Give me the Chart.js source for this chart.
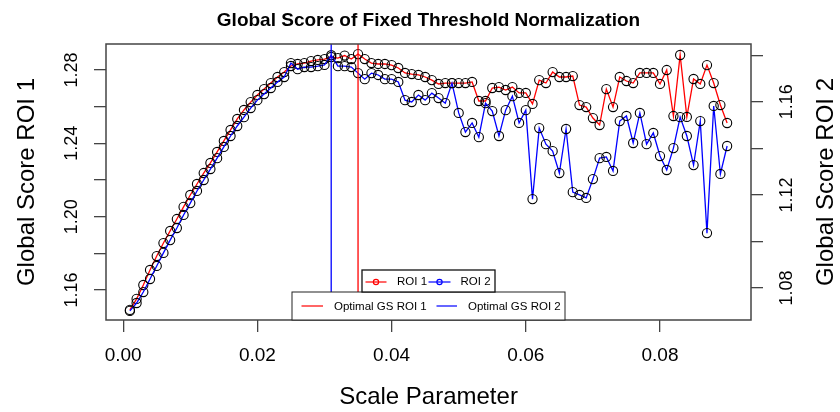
<!DOCTYPE html>
<html>
<head>
<meta charset="utf-8">
<title>Global Score of Fixed Threshold Normalization</title>
<script src="https://cdn.jsdelivr.net/npm/chart.js@4.4.1/dist/chart.umd.min.js"></script>
<style>
  html, body { margin: 0; padding: 0; background: #fff; }
  #wrap { width: 840px; height: 412px; }
</style>
</head>
<body>
<div id="wrap"><canvas id="chart" width="840" height="412"></canvas></div>
<script>
const FONT = "'Liberation Sans', Arial, sans-serif";

// Scale parameter (x)
const scaleParams = [
  0.001, 0.002, 0.003, 0.004, 0.005, 0.006, 0.007, 0.008, 0.009, 0.010,
  0.011, 0.012, 0.013, 0.014, 0.015, 0.016, 0.017, 0.018, 0.019, 0.020,
  0.021, 0.022, 0.023, 0.024, 0.025, 0.026, 0.027, 0.028, 0.029, 0.030,
  0.031, 0.032, 0.033, 0.034, 0.035, 0.036, 0.037, 0.038, 0.039, 0.040,
  0.041, 0.042, 0.043, 0.044, 0.045, 0.046, 0.047, 0.048, 0.049, 0.050,
  0.051, 0.052, 0.053, 0.054, 0.055, 0.056, 0.057, 0.058, 0.059, 0.060,
  0.061, 0.062, 0.063, 0.064, 0.065, 0.066, 0.067, 0.068, 0.069, 0.070,
  0.071, 0.072, 0.073, 0.074, 0.075, 0.076, 0.077, 0.078, 0.079, 0.080,
  0.081, 0.082, 0.083, 0.084, 0.085, 0.086, 0.087, 0.088, 0.089, 0.090
];

// Global score, ROI 1 (left axis)
const roi1 = [
  1.1491, 1.1551, 1.1627, 1.1709, 1.1785, 1.1856, 1.1922, 1.1987, 1.2053, 1.2118,
  1.2178, 1.2238, 1.2293, 1.2353, 1.2413, 1.2473, 1.2533, 1.2582, 1.2625, 1.2664,
  1.2696, 1.2729, 1.2762, 1.2789, 1.2822, 1.2833, 1.2838, 1.2849, 1.2855, 1.2860,
  1.2871, 1.2865, 1.2879, 1.2860, 1.2887, 1.2860, 1.2838, 1.2833, 1.2833, 1.2827,
  1.2811, 1.2784, 1.2778, 1.2773, 1.2762, 1.2745, 1.2724, 1.2729, 1.2729, 1.2729,
  1.2729, 1.2735, 1.2631, 1.2631, 1.2702, 1.2707, 1.2691, 1.2707, 1.2675, 1.2675,
  1.2615, 1.2745, 1.2729, 1.2789, 1.2762, 1.2762, 1.2767, 1.2609, 1.2598, 1.2538,
  1.2500, 1.2696, 1.2598, 1.2762, 1.2740, 1.2729, 1.2784, 1.2784, 1.2784, 1.2724,
  1.2800, 1.2549, 1.2882, 1.2544, 1.2751, 1.2724, 1.2827, 1.2729, 1.2609, 1.2511
];

// Global score, ROI 2 (right axis)
const roi2 = [
  1.0702, 1.0736, 1.0783, 1.0839, 1.0895, 1.0951, 1.1006, 1.1058, 1.1114, 1.1165,
  1.1217, 1.1264, 1.1311, 1.1358, 1.1406, 1.1453, 1.1496, 1.1534, 1.1573, 1.1607,
  1.1633, 1.1659, 1.1685, 1.1706, 1.1766, 1.1740, 1.1749, 1.1749, 1.1753, 1.1758,
  1.1800, 1.1753, 1.1753, 1.1749, 1.1723, 1.1697, 1.1723, 1.1715, 1.1697, 1.1697,
  1.1685, 1.1607, 1.1599, 1.1629, 1.1607, 1.1637, 1.1616, 1.1594, 1.1680, 1.1552,
  1.1470, 1.1509, 1.1448, 1.1594, 1.1560, 1.1453, 1.1564, 1.1624, 1.1509, 1.1564,
  1.1182, 1.1487, 1.1418, 1.1388, 1.1294, 1.1483, 1.1212, 1.1200, 1.1187, 1.1268,
  1.1358, 1.1363, 1.1303, 1.1517, 1.1539, 1.1423, 1.1552, 1.1418, 1.1466, 1.1367,
  1.1307, 1.1401, 1.1534, 1.1453, 1.1328, 1.1517, 1.1036, 1.1582, 1.1290, 1.1410
];

// Optimal scale parameters
const optimalRoi1 = 0.035;
const optimalRoi2 = 0.031;

// Ticks
const xTicks = [0, 0.02, 0.04, 0.06, 0.08];
const y1Ticks = [1.16, 1.18, 1.20, 1.22, 1.24, 1.26, 1.28];
const y1Labels = ['1.16', '', '1.20', '', '1.24', '', '1.28'];
const y2Ticks = [1.08, 1.10, 1.12, 1.14, 1.16, 1.18];
const y2Labels = ['1.08', '', '1.12', '', '1.16', ''];

// Axis ranges (R style 4% padding)
const xRange = [-0.00256, 0.09356];
const y1Range = [1.1436, 1.2942];
const y2Range = [1.0663, 1.1848];

const AXIS_GREY = '#444';

function toPoints(xs, ys) {
  return xs.map((x, i) => ({ x: x, y: ys[i] }));
}

// box around the plot region
const boxPlugin = {
  id: 'plotBox',
  afterDatasetsDraw(chart) {
    const { ctx, chartArea } = chart;
    ctx.save();
    ctx.strokeStyle = AXIS_GREY;
    ctx.lineWidth = 1.5;
    ctx.strokeRect(chartArea.left, chartArea.top,
      chartArea.right - chartArea.left, chartArea.bottom - chartArea.top);
    ctx.restore();
  }
};

// two R-like legend boxes at the bottom of the plot
const legendPlugin = {
  id: 'rLegends',
  afterDatasetsDraw(chart) {
    const { ctx, chartArea } = chart;
    const ds = chart.data.datasets;
    const cx = (chartArea.left + chartArea.right) / 2;
    ctx.save();
    ctx.font = '11.5px ' + FONT;
    ctx.textBaseline = 'middle';
    ctx.textAlign = 'left';

    // lower box: optimal lines
    let w = 273, h = 28;
    let x0 = cx - w / 2, y0 = chartArea.bottom - h;
    ctx.fillStyle = '#fff';
    ctx.fillRect(x0, y0, w, h);
    ctx.strokeStyle = '#222';
    ctx.lineWidth = 1;
    ctx.strokeRect(x0, y0, w, h);
    let ym = y0 + h / 2;
    [[ds[2], 9.5, 31, 42], [ds[3], 144.5, 165, 176]].forEach(([d, a, b, t]) => {
      ctx.strokeStyle = d.borderColor;
      ctx.lineWidth = 1.2;
      ctx.beginPath();
      ctx.moveTo(x0 + a, ym);
      ctx.lineTo(x0 + b, ym);
      ctx.stroke();
      ctx.fillStyle = '#000';
      ctx.fillText(d.label, x0 + t, ym + 0.5);
    });

    // upper box: series
    w = 133; h = 22;
    x0 = cx - w / 2; y0 = chartArea.bottom - 28 - h;
    ctx.fillStyle = '#fff';
    ctx.fillRect(x0, y0, w, h);
    ctx.strokeStyle = '#111';
    ctx.lineWidth = 1.3;
    ctx.strokeRect(x0, y0, w, h);
    ym = y0 + h / 2 + 1;
    [[ds[0], 3.5, 24.5, 35], [ds[1], 66.5, 88.5, 98.5]].forEach(([d, a, b, t]) => {
      ctx.strokeStyle = d.borderColor;
      ctx.lineWidth = 1.2;
      ctx.beginPath();
      ctx.moveTo(x0 + a, ym);
      ctx.lineTo(x0 + b, ym);
      ctx.stroke();
      ctx.beginPath();
      ctx.arc(x0 + (a + b) / 2, ym, 2.6, 0, Math.PI * 2);
      ctx.stroke();
      ctx.fillStyle = '#000';
      ctx.fillText(d.label, x0 + t, ym);
    });
    ctx.restore();
  }
};

// right axis title reads bottom-to-top as in R
const rightTitlePlugin = {
  id: 'rightTitle',
  afterDraw(chart) {
    const { ctx, chartArea } = chart;
    ctx.save();
    ctx.translate(chart.width - 14, (chartArea.top + chartArea.bottom) / 2);
    ctx.rotate(-Math.PI / 2);
    ctx.font = '24px ' + FONT;
    ctx.fillStyle = '#000';
    ctx.textAlign = 'center';
    ctx.textBaseline = 'middle';
    ctx.fillText('Global Score ROI 2', 0, 0);
    ctx.restore();
  }
};

const tickGrid = {
  display: true,
  drawOnChartArea: false,
  drawTicks: true,
  tickLength: 12,
  color: AXIS_GREY,
  lineWidth: 1.3
};

new Chart(document.getElementById('chart'), {
  type: 'line',
  data: {
    datasets: [
      {
        label: 'ROI 1',
        data: toPoints(scaleParams, roi1),
        yAxisID: 'y',
        borderColor: '#ff0000',
        borderWidth: 1.3,
        pointRadius: 4.6,
        pointBorderColor: '#000',
        pointBackgroundColor: 'rgba(0,0,0,0)',
        pointBorderWidth: 1.1,
        tension: 0,
        order: 3
      },
      {
        label: 'ROI 2',
        data: toPoints(scaleParams, roi2),
        yAxisID: 'y2',
        borderColor: '#0000ff',
        borderWidth: 1.3,
        pointRadius: 4.6,
        pointBorderColor: '#000',
        pointBackgroundColor: 'rgba(0,0,0,0)',
        pointBorderWidth: 1.1,
        tension: 0,
        order: 2
      },
      {
        label: 'Optimal GS ROI 1',
        data: [{ x: optimalRoi1, y: y1Range[0] }, { x: optimalRoi1, y: y1Range[1] }],
        yAxisID: 'y',
        borderColor: '#ff0000',
        borderWidth: 1.3,
        pointRadius: 0,
        order: 1
      },
      {
        label: 'Optimal GS ROI 2',
        data: [{ x: optimalRoi2, y: y1Range[0] }, { x: optimalRoi2, y: y1Range[1] }],
        yAxisID: 'y',
        borderColor: '#0000ff',
        borderWidth: 1.3,
        pointRadius: 0,
        order: 0
      }
    ]
  },
  options: {
    responsive: false,
    animation: false,
    devicePixelRatio: 1,
    layout: { padding: 0 },
    plugins: {
      legend: { display: false },
      tooltip: { enabled: false },
      title: {
        display: true,
        text: 'Global Score of Fixed Threshold Normalization',
        fullSize: false,
        color: '#000',
        font: { family: FONT, size: 19, weight: 'bold' },
        padding: { top: 9, bottom: 12.2 }
      }
    },
    scales: {
      x: {
        type: 'linear',
        position: 'bottom',
        min: xRange[0],
        max: xRange[1],
        afterBuildTicks: s => { s.ticks = xTicks.map(v => ({ value: v })); },
        afterFit: s => { s.height = 92; },
        grid: tickGrid,
        border: { display: false },
        ticks: {
          autoSkip: false,
          maxRotation: 0,
          padding: 12,
          color: '#000',
          font: { family: FONT, size: 19 },
          callback: v => v.toFixed(2)
        },
        title: {
          display: true,
          text: 'Scale Parameter',
          color: '#000',
          font: { family: FONT, size: 24 },
          padding: { top: 0, bottom: 0 }
        }
      },
      y: {
        type: 'linear',
        position: 'left',
        min: y1Range[0],
        max: y1Range[1],
        afterBuildTicks: s => { s.ticks = y1Ticks.map(v => ({ value: v })); },
        afterFit: s => { s.width = 106; },
        grid: tickGrid,
        border: { display: false },
        ticks: {
          autoSkip: false,
          minRotation: 90,
          maxRotation: 90,
          crossAlign: 'center',
          padding: 4.5,
          color: '#000',
          font: { family: FONT, size: 18 },
          callback: (v, i) => y1Labels[i]
        },
        title: {
          display: true,
          text: 'Global Score ROI 1',
          color: '#000',
          font: { family: FONT, size: 24 },
          padding: { top: 12.5, bottom: 0 }
        }
      },
      y2: {
        type: 'linear',
        position: 'right',
        min: y2Range[0],
        max: y2Range[1],
        afterBuildTicks: s => { s.ticks = y2Ticks.map(v => ({ value: v })); },
        afterFit: s => { s.width = 89; },
        grid: tickGrid,
        border: { display: false },
        ticks: {
          autoSkip: false,
          minRotation: 90,
          maxRotation: 90,
          crossAlign: 'center',
          padding: 6.5,
          color: '#000',
          font: { family: FONT, size: 18 },
          callback: (v, i) => y2Labels[i]
        }
      }
    }
  },
  plugins: [boxPlugin, legendPlugin, rightTitlePlugin]
});
</script>
</body>
</html>
